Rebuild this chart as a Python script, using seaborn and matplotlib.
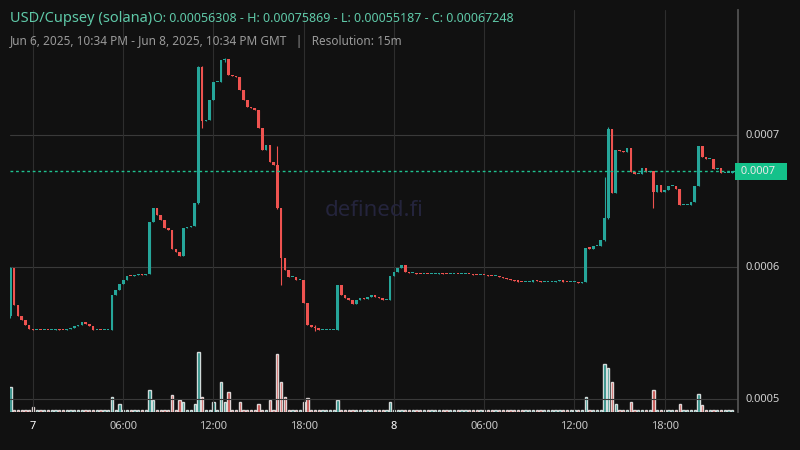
import numpy as np
import pandas as pd
import matplotlib
matplotlib.use("Agg")
import matplotlib.pyplot as plt
import seaborn as sns

# close prices, in 1e-5 USD, one per 15m candle from Jun 6 22:30 to Jun 8 22:30
first_open = 56.308
closes = [
    59.92, 57.12, 56.3, 56.0, 55.6, 55.3, 55.23,
    55.23, 55.2, 55.25, 55.2, 55.23, 55.3, 55.25, 55.23, 55.3, 55.4,
    55.5, 55.6, 55.83, 55.7, 55.5, 55.23, 55.23, 55.2, 55.23, 55.23,
    57.88, 58.26, 58.71, 59.02, 59.32, 59.3, 59.4, 59.47, 59.4, 59.47,
    63.41, 64.47, 63.94, 63.56, 62.95, 62.80, 61.4, 61.14, 60.83, 62.95,
    63.03, 63.11, 64.85, 75.15, 71.06, 71.14, 72.65, 74.02, 74.02, 75.68,
    75.76, 74.55, 74.47, 74.39, 73.41, 72.65, 72.12, 72.05, 71.9, 70.53,
    68.86, 69.24, 67.95, 67.73, 64.47, 60.68, 59.77, 59.24, 59.24, 59.02,
    59.02, 57.27, 55.61, 55.45, 55.38, 55.23, 55.23, 55.23, 55.23, 55.23,
    58.64, 57.88, 57.65, 57.5, 57.2, 57.5, 57.65, 57.58, 57.73, 57.88,
    57.73, 57.65, 57.5, 57.5, 59.32, 59.62, 59.92, 60.15, 59.62, 59.55,
    59.55, 59.5, 59.47, 59.5, 59.47, 59.47, 59.5, 59.55, 59.5, 59.47,
    59.47, 59.5, 59.47, 59.47, 59.5, 59.47, 59.4, 59.39, 59.4, 59.39,
    59.32, 59.3, 59.32, 59.24, 59.2, 59.1, 59.02, 58.94, 58.9, 58.86,
    58.86, 58.9, 59.0, 58.94, 58.86, 58.86,
    58.86, 58.86, 58.94, 59.0, 58.9, 58.86, 58.86, 58.86, 58.8, 58.86,
    61.44, 61.4, 61.59, 61.59, 62.05, 63.71, 70.45, 65.61, 68.86, 68.79,
    68.71, 69.02, 67.2, 67.05, 67.05, 67.5, 67.2, 67.27, 65.68, 66.21,
    65.68, 65.83, 66.14, 66.14, 65.91, 64.7, 64.7, 64.7, 64.92, 66.14,
    69.17, 68.33, 68.18, 68.18, 67.42, 67.5, 67.12, 67.12, 67.12, 67.248,
]
# wicks beyond the bodies: candle index -> (high, low)
wicks = {0: (60.0, 56.1), 50: (75.2, 64.8), 51: (75.2, 70.5), 57: (75.869, 75.5),
         71: (69.2, 64.4), 72: (64.5, 58.6), 81: (55.6, 55.187), 158: (66.8, 62.0),
         159: (70.6, 63.6), 171: (67.3, 64.47)}

volume = [2.0] * len(closes)
vol_spikes = {0: 25, 6: 5, 27: 15, 29: 8, 37: 22, 38: 12, 43: 17, 45: 12, 46: 10,
              49: 8, 50: 60, 51: 15, 54: 10, 56: 30, 57: 10, 58: 20, 61: 10, 66: 8,
              69: 12, 71: 58, 72: 30, 73: 15, 78: 10, 79: 14, 87: 12, 101: 10,
              153: 15, 158: 48, 159: 44, 160: 30, 161: 8, 165: 10, 171: 22,
              178: 8, 183: 18, 184: 7}
for k, v in vol_spikes.items():
    volume[k] = v

day_ticks = [6, 30, 54, 78, 102, 126, 150, 174]
day_labels = ["7", "06:00", "12:00", "18:00", "8", "06:00", "12:00", "18:00"]
price_ticks = [50, 60, 70]

n = len(closes)
opens = [first_open] + closes[:-1]
df = pd.DataFrame({"i": np.arange(n), "open": opens, "close": closes, "vol": volume})
df["high"] = df[["open", "close"]].max(axis=1)
df["low"] = df[["open", "close"]].min(axis=1)
df["body_lo"] = df[["open", "close"]].min(axis=1)
for k, (h, l) in wicks.items():
    df.loc[k, "high"] = max(h, df.loc[k, "high"])
    df.loc[k, "low"] = min(l, df.loc[k, "low"])
df["up"] = df["close"] >= df["open"]

GREEN, RED, BG = "#26a69a", "#ef5350", "#111111"

sns.set_theme(style="dark")
plt.rcParams["font.family"] = ["Noto Sans", "DejaVu Sans"]

fig = plt.figure(figsize=(8, 4.5), dpi=100, facecolor=BG)
ax = fig.add_axes([10 / 800, 1 - 412 / 450, 728 / 800, 402 / 450])
vax = ax.twinx()
vax.set_ylim(0, 402)
vax.set_axis_off()
ax.set_zorder(vax.get_zorder() + 1)
ax.patch.set_visible(False)
vax.patch.set_visible(False)

colors = np.where(df["up"], GREEN, RED)
vax.bar(df["i"], df["vol"], width=0.6, color=colors, alpha=0.8)

ax.vlines(df["i"], df["low"], df["high"], colors=colors, linewidth=0.8)
body = (df["close"] - df["open"]).abs().clip(lower=0.08)
ax.bar(df["i"], body, bottom=df["body_lo"], width=0.7, color=colors, linewidth=0)

ax.set_xlim(-0.1, 193.5)
ax.set_ylim(70 - 277 / 13.2, 70 + 125 / 13.2)
for t in price_ticks:
    ax.axhline(t, color="#3a3a3a", linewidth=0.8, zorder=0)
for t in day_ticks:
    ax.axvline(t, color="#2e2e2e", linewidth=0.8, zorder=0)
ax.set_xticks([])
ax.set_yticks([])
for s in ["top", "left", "bottom"]:
    ax.spines[s].set_visible(False)
ax.spines["right"].set_color("#555555")

for t, lab in zip(day_ticks, day_labels):
    bold = lab in ("7", "8")
    ax.text(t, -0.035, lab, transform=ax.get_xaxis_transform(), ha="center", va="center",
            fontsize=8, color="#ffffff" if bold else "#c8c8c8",
            fontweight="bold" if bold else "normal")
for t in price_ticks:
    ax.text(1.01, t, f"{t/1e5:.4f}", transform=ax.get_yaxis_transform(), ha="left",
            va="center", fontsize=8, color="#d0d0d0")

last = closes[-1]
ax.axhline(last, color="#1fc18f", linewidth=1, linestyle=(0, (2, 2)))
ax.text(1.0, last, " 0.0007   ", transform=ax.get_yaxis_transform(), ha="left", va="center",
        fontsize=8, color="#e8e8e8",
        bbox=dict(boxstyle="square,pad=0.25", fc="#14c18a", ec="none"))

ax.text(0.5, 0.5, "defined.fi", transform=ax.transAxes, ha="center", va="center",
        fontsize=16, color="#24243c", zorder=0)

fig.text(10 / 800, 1 - 19 / 450, "USD/Cupsey (solana)", fontsize=10.5, color="#5fc9a8", va="center")
fig.text(153 / 800, 1 - 19 / 450,
         "O: 0.00056308 - H: 0.00075869 - L: 0.00055187 - C: 0.00067248",
         fontsize=9, color="#5fc9a8", va="center")
fig.text(10 / 800, 1 - 41 / 450,
         "Jun 6, 2025, 10:34 PM - Jun 8, 2025, 10:34 PM GMT   |   Resolution: 15m",
         fontsize=8.5, color="#9a9a9a", va="center")

fig.savefig("out.png", dpi=100, facecolor=BG)
